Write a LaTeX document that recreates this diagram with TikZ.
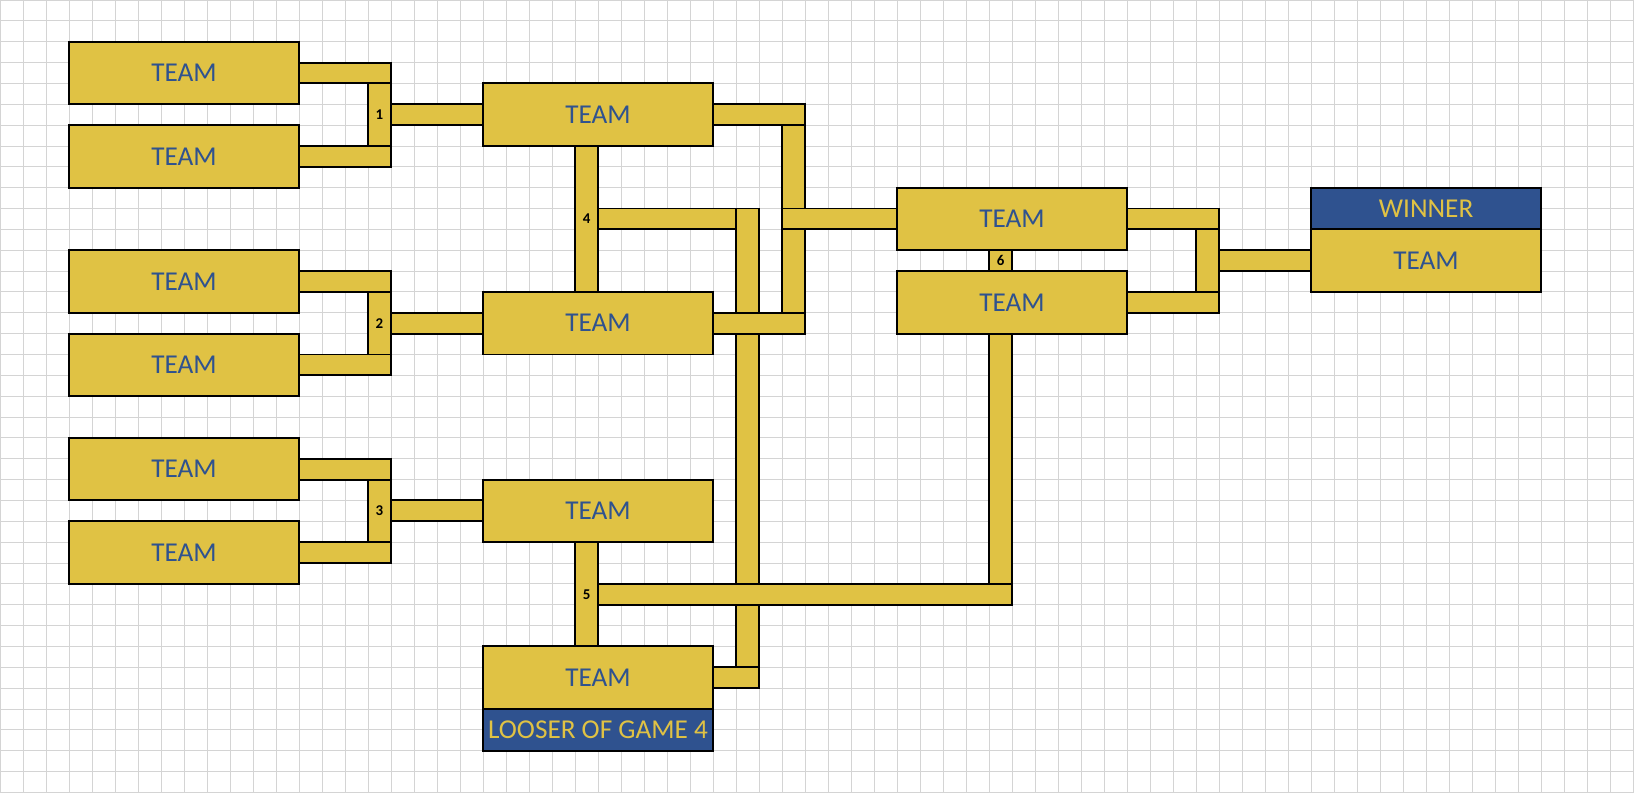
\documentclass[tikz,border=0pt]{standalone}
\usepackage{fontspec}
\setmainfont{Carlito}
\usetikzlibrary{calc,positioning}
\definecolor{teamgold}{RGB}{224,194,68}
\definecolor{teamblue}{RGB}{47,82,143}
\definecolor{gridgray}{RGB}{212,212,212}
% one bar, one row high, on the row of its two ends
\newcommand\hlink[2]{\draw[bar] ($(#1)+(0,-0.5)$) rectangle ($(#2)+(0,0.5)$);}
\begin{document}
\begin{tikzpicture}[x=0.46cm,y=-0.417cm,
    gridline/.style={draw=gridgray,line width=0.5pt},
    team/.style={draw,line width=1.1pt,fill=teamgold,text=teamblue,minimum width=4.6cm,
      minimum height=1.251cm,inner sep=0pt,outer sep=0pt,font=\fontsize{15.5}{18}\selectfont},
    header/.style={team,fill=teamblue,text=teamgold,minimum height=0.834cm},
    game/.style={draw,line width=1.1pt,fill=teamgold,minimum width=0.46cm,inner sep=0pt,
      outer sep=0pt,font=\fontsize{8.5}{9}\selectfont\bfseries},
    tall/.style={minimum height=#1*0.417cm},
    bar/.style={draw,line width=1.1pt,fill=teamgold}]
  \fill[white] (0,0) rectangle (71.04,38.03);
  \useasboundingbox (0,0) rectangle (71.04,38.03);
  % sheet grid
  \foreach \c in {0,...,71} \draw[gridline] (\c,0) -- (\c,38.03);
  \foreach \r in {0,...,38} \draw[gridline] (0,\r) -- (71.04,\r);
  % long risers
  \node[game,tall=11] (l2) at (34.5,10.5) {};
  \node[game,tall=23] (l4) at (32.5,21.5) {};
  \node[game,tall=13] (l5) at (43.5,22.5) {};
  % first round
  \node[team] (t1) at (8,3.5) {TEAM};
  \node[team] (t2) at (8,7.5) {TEAM};
  \node[team] (t3) at (8,13.5) {TEAM};
  \node[team] (t4) at (8,17.5) {TEAM};
  \node[team] (t5) at (8,22.5) {TEAM};
  \node[team] (t6) at (8,26.5) {TEAM};
  % second round
  \node[team] (a) at (26,5.5) {TEAM};
  \node[team] (b) at (26,15.5) {TEAM};
  \node[team] (c) at (26,24.5) {TEAM};
  \node[team] (d) at (26,32.5) {TEAM};
  \node[header] (lh) [below=0pt of d] {LOOSER OF GAME 4};
  % third round and final
  \node[team] (e) at (44,10.5) {TEAM};
  \node[team] (f) at (44,14.5) {TEAM};
  \node[team] (w) at (62,12.5) {TEAM};
  \node[header] (wh) [above=0pt of w] {WINNER};
  % games
  \node[game,tall=3] (g1) at (16.5,5.5) {1};
  \node[game,tall=3] (g2) at (16.5,15.5) {2};
  \node[game,tall=3] (g3) at (16.5,24.5) {3};
  \node[game,tall=7] (g4) at (25.5,10.5) {4};
  \node[game,tall=5] (g5) at (25.5,28.5) {5};
  \node[game,tall=1] (g6) at (43.5,12.5) {6};
  \node[game,tall=3] (gf) at (52.5,12.5) {};
  % bars
  \hlink{t1.east}{t1.east -| g1.east}
  \hlink{t2.east}{t2.east -| g1.east}
  \hlink{g1.east}{a.west}
  \hlink{t3.east}{t3.east -| g2.east}
  \hlink{t4.east}{t4.east -| g2.east}
  \hlink{g2.east}{b.west}
  \hlink{t5.east}{t5.east -| g3.east}
  \hlink{t6.east}{t6.east -| g3.east}
  \hlink{g3.east}{c.west}
  \hlink{g4.east}{g4.east -| l4.west}
  \hlink{a.east}{a.east -| l2.east}
  \hlink{b.east}{b.east -| l2.east}
  \hlink{l2.west}{e.west}
  \hlink{d.east}{d.east -| l4.east}
  \hlink{g5.east}{g5.east -| l5.east}
  \hlink{e.east}{e.east -| gf.east}
  \hlink{f.east}{f.east -| gf.east}
  \hlink{gf.east}{w.west}
\end{tikzpicture}
\end{document}
